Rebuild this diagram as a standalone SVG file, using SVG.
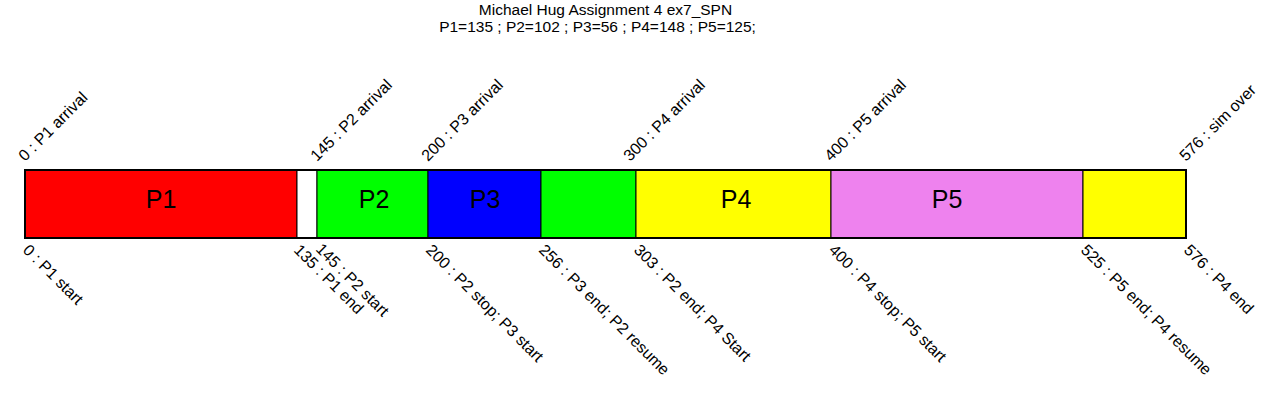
<svg xmlns="http://www.w3.org/2000/svg" width="1280" height="420" viewBox="0 0 1280 420">
<style>
text{font-family:"Liberation Sans",Arial,sans-serif;fill:#000}
.title{font-size:15.5px;text-anchor:middle}
.lbl{font-size:16px}
.name{font-size:25px;text-anchor:middle}
.seg{stroke:#000;stroke-width:1}
</style>
<rect width="1280" height="420" fill="#fff"/>
<g id="title">
<text class="title" x="605.5" y="15">Michael Hug Assignment 4 ex7_SPN</text>
<text class="title" x="597.5" y="32">P1=135 ; P2=102 ; P3=56 ; P4=148 ; P5=125;</text>
</g>
<g id="seg-p1"><rect class="seg" x="25" y="170" width="272" height="68" fill="#ff0000"/><text class="name" x="161" y="208">P1</text></g>
<g id="seg-idle"><rect class="seg" x="297" y="170" width="20" height="68" fill="#ffffff"/></g>
<g id="seg-p2a"><rect class="seg" x="317" y="170" width="111" height="68" fill="#00ff00"/><text class="name" x="374" y="208">P2</text></g>
<g id="seg-p3"><rect class="seg" x="428" y="170" width="113" height="68" fill="#0000ff"/><text class="name" x="485" y="208">P3</text></g>
<g id="seg-p2b"><rect class="seg" x="541" y="170" width="95" height="68" fill="#00ff00"/></g>
<g id="seg-p4a"><rect class="seg" x="636" y="170" width="195" height="68" fill="#ffff00"/><text class="name" x="736" y="208">P4</text></g>
<g id="seg-p5"><rect class="seg" x="831" y="170" width="252" height="68" fill="#ee82ee"/><text class="name" x="947" y="208">P5</text></g>
<g id="seg-p4b"><rect class="seg" x="1083" y="170" width="103" height="68" fill="#ffff00"/></g>
<rect x="25" y="170" width="1161" height="68" fill="none" stroke="#000" stroke-width="2"/>
<g id="top-labels">
<text class="lbl" transform="translate(25,162) rotate(-45)">0 : P1 arrival</text>
<text class="lbl" transform="translate(317,162) rotate(-45)">145 : P2 arrival</text>
<text class="lbl" transform="translate(428,162) rotate(-45)">200 : P3 arrival</text>
<text class="lbl" transform="translate(630,162) rotate(-45)">300 : P4 arrival</text>
<text class="lbl" transform="translate(831,162) rotate(-45)">400 : P5 arrival</text>
<text class="lbl" transform="translate(1186,162) rotate(-45)">576 : sim over</text>
</g>
<g id="bottom-labels">
<text class="lbl" transform="translate(22,251) rotate(45)">0 : P1 start</text>
<text class="lbl" transform="translate(293,251) rotate(45)">135 : P1 end</text>
<text class="lbl" transform="translate(315,250) rotate(45)">145 : P2 start</text>
<text class="lbl" transform="translate(425,251) rotate(45)">200 : P2 stop; P3 start</text>
<text class="lbl" transform="translate(538,251) rotate(45)">256 : P3 end; P2 resume</text>
<text class="lbl" transform="translate(633,251) rotate(45)">303 : P2 end; P4 Start</text>
<text class="lbl" transform="translate(828,251) rotate(45)">400 : P4 stop; P5 start</text>
<text class="lbl" transform="translate(1080,251) rotate(45)">525 : P5 end; P4 resume</text>
<text class="lbl" transform="translate(1183,251) rotate(45)">576 : P4 end</text>
</g>
</svg>
